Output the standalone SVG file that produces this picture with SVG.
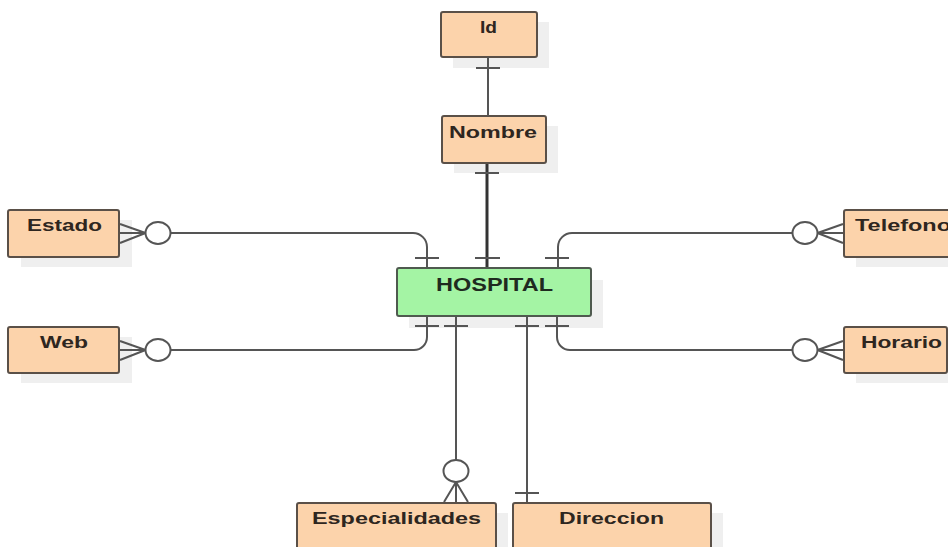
<svg xmlns="http://www.w3.org/2000/svg" width="948" height="547" viewBox="0 0 948 547">
  <style>
    .shadow { fill: #efefef; }
    .entity { fill: #fcd3ab; stroke: #5a5048; stroke-width: 2; }
    .main { fill: #a4f4a4; stroke: #4f5a4f; stroke-width: 2; }
    .label { font-family: "Liberation Sans", Arial, sans-serif; font-weight: bold; font-size: 17px; fill: #2e2620; }
    .label-main { font-family: "Liberation Sans", Arial, sans-serif; font-weight: bold; font-size: 18px; fill: #1f2a1f; }
    .link { fill: none; stroke: #555555; stroke-width: 2; }
    .link-strong { fill: none; stroke: #333333; stroke-width: 3; }
    .tick { stroke: #555555; stroke-width: 2; }
    .opt { fill: #ffffff; stroke: #555555; stroke-width: 2; }
  </style>
  <rect width="948" height="547" fill="#ffffff"/>

  <!-- entities -->
  <g id="id">
    <rect class="shadow" x="453" y="22" width="96" height="46"/>
    <rect class="entity" x="441" y="12" width="96" height="45" rx="2"/>
    <text class="label" x="480" y="33" textLength="17" lengthAdjust="spacingAndGlyphs">Id</text>
  </g>

  <g id="nombre">
    <rect class="shadow" x="454" y="126" width="104" height="47"/>
    <rect class="entity" x="442" y="116" width="104" height="47" rx="2"/>
    <text class="label" x="449" y="138" textLength="88" lengthAdjust="spacingAndGlyphs">Nombre</text>
  </g>

  <g id="hospital">
    <rect class="shadow" x="409" y="280" width="194" height="48"/>
    <rect class="main" x="397" y="268" width="194" height="48" rx="2"/>
    <text class="label-main" x="436" y="291" textLength="117" lengthAdjust="spacingAndGlyphs">HOSPITAL</text>
  </g>

  <g id="estado">
    <rect class="shadow" x="21" y="220" width="111" height="47"/>
    <rect class="entity" x="8" y="210" width="111" height="47" rx="2"/>
    <text class="label" x="27" y="231" textLength="75" lengthAdjust="spacingAndGlyphs">Estado</text>
  </g>

  <g id="web">
    <rect class="shadow" x="21" y="337" width="111" height="46"/>
    <rect class="entity" x="8" y="327" width="111" height="46" rx="2"/>
    <text class="label" x="40" y="348" textLength="48" lengthAdjust="spacingAndGlyphs">Web</text>
  </g>

  <g id="telefono">
    <rect class="shadow" x="856" y="220" width="120" height="47"/>
    <rect class="entity" x="844" y="210" width="120" height="47" rx="2"/>
    <text class="label" x="855" y="231" textLength="96" lengthAdjust="spacingAndGlyphs">Telefono</text>
  </g>

  <g id="horario">
    <rect class="shadow" x="856" y="337" width="103" height="46"/>
    <rect class="entity" x="844" y="327" width="103" height="46" rx="2"/>
    <text class="label" x="861" y="348" textLength="81" lengthAdjust="spacingAndGlyphs">Horario</text>
  </g>

  <g id="especialidades">
    <rect class="shadow" x="309" y="513" width="199" height="60"/>
    <rect class="entity" x="297" y="503" width="199" height="60" rx="2"/>
    <text class="label" x="312" y="524" textLength="169" lengthAdjust="spacingAndGlyphs">Especialidades</text>
  </g>

  <g id="direccion">
    <rect class="shadow" x="525" y="513" width="198" height="60"/>
    <rect class="entity" x="513" y="503" width="198" height="60" rx="2"/>
    <text class="label" x="559" y="524" textLength="105" lengthAdjust="spacingAndGlyphs">Direccion</text>
  </g>

  <!-- connectors, drawn over the entity shadows -->
  <g id="connectors">
    <!-- Id - Nombre -->
    <line class="link" x1="488" y1="57" x2="488" y2="116"/>
    <line class="tick" x1="476" y1="68" x2="500" y2="68"/>

    <!-- Nombre - HOSPITAL -->
    <line class="link-strong" x1="487" y1="164" x2="487" y2="267"/>
    <line class="tick" x1="475" y1="173" x2="499" y2="173"/>
    <line class="tick" x1="475" y1="258" x2="500" y2="258"/>

    <!-- Estado - HOSPITAL -->
    <path class="link" d="M171,233 H413 A14,14 0 0 1 427,247 V267"/>
    <line class="tick" x1="415" y1="258" x2="439" y2="258"/>
    <ellipse class="opt" cx="158" cy="233" rx="12.5" ry="11"/>
    <path class="link" d="M120,224 L145.5,233 M120,233 H145.5 M120,243 L145.5,233"/>

    <!-- Telefono - HOSPITAL -->
    <path class="link" d="M793,233 H572 A14,14 0 0 0 558,247 V267"/>
    <line class="tick" x1="545" y1="258" x2="569" y2="258"/>
    <ellipse class="opt" cx="805" cy="233" rx="12.5" ry="11"/>
    <path class="link" d="M843,224 L817.5,233 M843,233 H817.5 M843,243 L817.5,233"/>

    <!-- Web - HOSPITAL -->
    <path class="link" d="M427,317 V337 A13,13 0 0 1 414,350 H171"/>
    <line class="tick" x1="415" y1="326" x2="439" y2="326"/>
    <ellipse class="opt" cx="158" cy="350" rx="12.5" ry="11"/>
    <path class="link" d="M120,341 L145.5,350 M120,350 H145.5 M120,360 L145.5,350"/>

    <!-- Horario - HOSPITAL -->
    <path class="link" d="M557,317 V337 A13,13 0 0 0 570,350 H793"/>
    <line class="tick" x1="545" y1="326" x2="569" y2="326"/>
    <ellipse class="opt" cx="805" cy="350" rx="12.5" ry="11"/>
    <path class="link" d="M843,341 L817.5,350 M843,350 H817.5 M843,360 L817.5,350"/>

    <!-- Especialidades - HOSPITAL -->
    <line class="link" x1="456" y1="317" x2="456" y2="460"/>
    <line class="tick" x1="444" y1="326" x2="468" y2="326"/>
    <ellipse class="opt" cx="456" cy="471" rx="12.5" ry="11"/>
    <path class="link" d="M444,502 L456,482 M456,482 V502 M468,502 L456,482"/>

    <!-- Direccion - HOSPITAL -->
    <line class="link" x1="527" y1="317" x2="527" y2="502"/>
    <line class="tick" x1="515" y1="326" x2="539" y2="326"/>
    <line class="tick" x1="515" y1="493" x2="539" y2="493"/>
  </g>
</svg>
